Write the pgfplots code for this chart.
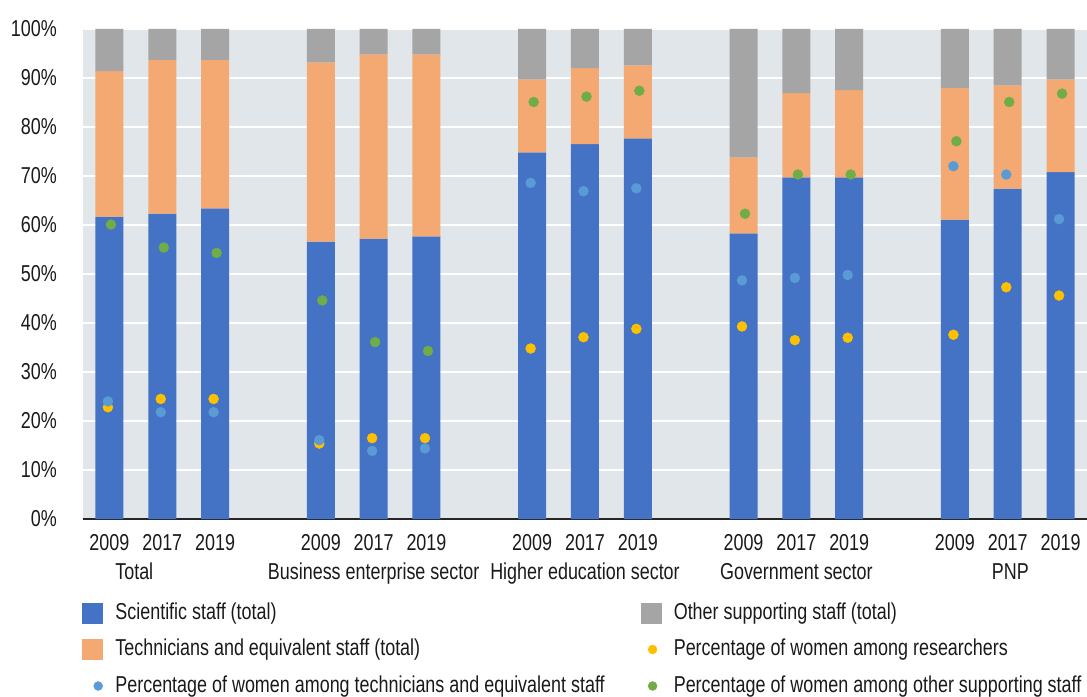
\documentclass[border=0pt]{standalone}
\usepackage{fontspec}
\setmainfont{Liberation Sans}[FakeStretch=0.78]
\usepackage{pgfplots}
\pgfplotsset{compat=1.18}
\usepackage{pgfplotstable}

\definecolor{sci}{HTML}{4472C4}
\definecolor{tech}{HTML}{F4A972}
\definecolor{oth}{HTML}{A5A5A5}
\definecolor{wres}{HTML}{FFC000}
\definecolor{wtech}{HTML}{5B9BD5}
\definecolor{woth}{HTML}{70AD47}
\definecolor{bgc}{HTML}{E1E6EA}
\definecolor{txt}{HTML}{1A1A1A}

\pgfplotstableread{
x  sci  tech oth  wres wtech woth
0  61.7 29.7 8.6  22.8 24.0 60.1
1  62.3 31.4 6.3  24.5 21.8 55.4
2  63.4 30.3 6.3  24.5 21.8 54.3
4  56.6 36.6 6.8  15.4 16.1 44.6
5  57.2 37.6 5.2  16.5 13.9 36.1
6  57.7 37.1 5.2  16.5 14.4 34.3
8  74.8 14.9 10.3 34.8 68.6 85.1
9  76.5 15.5 8.0  37.1 66.9 86.2
10 77.7 14.9 7.4  38.8 67.5 87.4
12 58.3 15.5 26.2 39.3 48.7 62.3
13 69.7 17.2 13.1 36.5 49.2 70.3
14 69.7 17.8 12.5 37.0 49.8 70.3
16 61.1 26.9 12.0 37.6 72.0 77.1
17 67.4 21.1 11.5 47.3 70.3 85.1
18 70.8 18.9 10.3 45.6 61.2 86.8
}\data

\newcommand{\lblfont}{\fontsize{23bp}{27bp}\selectfont}
\newcommand{\colA}[1]{\makebox[526bp][l]{#1}}

\begin{document}
\begin{tikzpicture}
\begin{axis}[
  name=ax, at={(0,0)}, anchor=south west,
  scale only axis, width=1004bp, height=490bp,
  xmin=-0.5, xmax=18.5, ymin=0, ymax=100,
  axis background/.style={fill=bgc},
  axis x line*=bottom, axis y line*=left,
  x axis line style={draw=black!85, line width=1.2bp},
  y axis line style={draw=none},
  ymajorgrids, grid style={white, line width=1.5bp},
  major tick length=0pt,
  ytick={0,10,...,100},
  yticklabels={0\%,10\%,20\%,30\%,40\%,50\%,60\%,70\%,80\%,90\%,100\%},
  xtick={0,1,2,4,5,6,8,9,10,12,13,14,16,17,18},
  xticklabels={2009,2017,2019,2009,2017,2019,2009,2017,2019,2009,2017,2019,2009,2017,2019},
  tick label style={font=\lblfont, text=txt},
  yticklabel style={anchor=east, inner sep=0pt, xshift=-26bp},
  xticklabel style={anchor=base, inner sep=0pt, yshift=-31bp},
  clip=false,
  legend columns=2,
  legend cell align=left,
  legend style={at={(axis description cs:0,0)}, anchor=north west,
    xshift=-1bp, yshift=-83bp, draw=none, fill=none,
    inner sep=0pt, outer sep=0pt, row sep=14.5bp, column sep=0pt,
    font=\lblfont, text=txt,
    nodes={inner sep=0pt, text height=17bp, text depth=5bp}},
]
\addlegendimage{legend image code/.code={\fill[sci] (0bp,-10bp) rectangle (20bp,10bp); \path (33bp,0);}}
\addlegendentry{\colA{Scientific staff (total)}}
\addlegendimage{legend image code/.code={\fill[oth] (0bp,-10bp) rectangle (20bp,10bp); \path (32bp,0);}}
\addlegendentry{Other supporting staff (total)}
\addlegendimage{legend image code/.code={\fill[tech] (0bp,-10bp) rectangle (20bp,10bp); \path (33bp,0);}}
\addlegendentry{\colA{Technicians and equivalent staff (total)}}
\addlegendimage{legend image code/.code={\fill[wres] (11bp,0) circle (4.5bp); \path (28bp,0);}}
\addlegendentry{Percentage of women among researchers}
\addlegendimage{legend image code/.code={\fill[wtech] (16bp,0) circle (4.5bp); \path (33bp,0);}}
\addlegendentry{\colA{Percentage of women among technicians and equivalent staff}}
\addlegendimage{legend image code/.code={\fill[woth] (11bp,0) circle (4.5bp); \path (28bp,0);}}
\addlegendentry{Percentage of women among other supporting staff}

\addplot[ybar stacked, bar width=28bp, fill=sci, draw=none, forget plot] table[x=x, y=sci] {\data};
\addplot[ybar stacked, bar width=28bp, fill=tech, draw=none, forget plot] table[x=x, y=tech] {\data};
\addplot[ybar stacked, bar width=28bp, fill=oth, draw=none, forget plot] table[x=x, y=oth] {\data};

\addplot[only marks, mark=*, mark size=5bp, color=wres, xshift=-1.5bp, forget plot] table[x=x, y=wres] {\data};
\addplot[only marks, mark=*, mark size=5bp, color=wtech, xshift=-1.5bp, forget plot] table[x=x, y=wtech] {\data};
\addplot[only marks, mark=*, mark size=5bp, color=woth, xshift=1.5bp, forget plot] table[x=x, y=woth] {\data};

\node[font=\lblfont, text=txt, anchor=base, inner sep=0pt] at ([yshift=-60bp]axis cs:0.47,0) {Total};
\node[font=\lblfont, text=txt, anchor=base, inner sep=0pt] at ([yshift=-60bp]axis cs:5,0) {Business enterprise sector};
\node[font=\lblfont, text=txt, anchor=base, inner sep=0pt] at ([yshift=-60bp]axis cs:9,0) {Higher education sector};
\node[font=\lblfont, text=txt, anchor=base, inner sep=0pt] at ([yshift=-60bp]axis cs:13,0) {Government sector};
\node[font=\lblfont, text=txt, anchor=base, inner sep=0pt] at ([yshift=-60bp]axis cs:17.05,0) {PNP};
\end{axis}
\pgfresetboundingbox
\path (-83bp,-178bp) rectangle (1004bp,519bp);
\end{tikzpicture}
\end{document}
